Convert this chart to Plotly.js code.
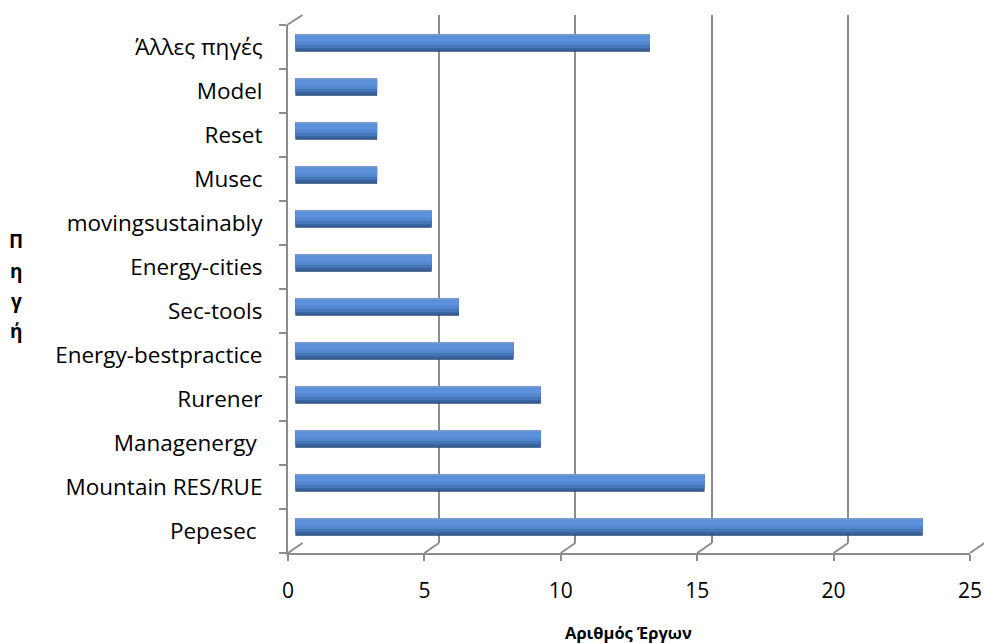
<!DOCTYPE html>
<html>
<head>
<meta charset="utf-8">
<script src="https://cdn.plot.ly/plotly-3.0.1.min.js"></script>
<style>html,body{margin:0;padding:0;background:#fff;}#chart{width:984px;height:643px;}</style>
</head>
<body>
<div id="chart"></div>
<script>
// ---- data ----
const categories = ["Pepesec ", "Mountain RES/RUE", "Managenergy ", "Rurener", "Energy-bestpractice",
  "Sec-tools", "Energy-cities", "movingsustainably", "Musec", "Reset", "Model", "Άλλες πηγές"];
const projects = [23, 15, 9, 9, 8, 6, 5, 5, 3, 3, 3, 13];
const xTicks = [0, 5, 10, 15, 20, 25];
const xTitle = "Αριθμός Έργων";
const yTitle = "Πηγή";

// ---- geometry (pixels) ----
const W = 984, H = 643;
const front = {x0: 288, x1: 970, y0: 25, y1: 553};
const dx = 14.5, dy = 10;            // depth offset of back wall
const back = {x0: front.x0 + dx, x1: front.x1 + dx, y0: front.y0 - dy, y1: front.y1 - dy};
const mid = {x0: front.x0 + dx/2, x1: front.x1 + dx/2, y0: front.y0 - dy/2 + 1, y1: front.y1 - dy/2 + 1};
const XMAX = 25;
const px2fx = p => p / W, px2fy = p => 1 - p / H;

function xDomain(b) {
  const scale = (b.x1 - b.x0) / XMAX;
  let right = b.x1, rmax = XMAX;
  if (right > W) { right = W; rmax = (W - b.x0) / scale; }
  return {domain: [px2fx(b.x0), px2fx(right)], range: [0, rmax]};
}
const catRange = [-0.5, categories.length - 0.5];
const font = "'Open Sans', 'Noto Sans', sans-serif";
const grid = '#8c8c8c';

const xa = xDomain(back), xb = xDomain(front), xc = xDomain(mid);

// cylinder shading bands: [start, end] as fraction of bar thickness (0 = bottom), colour
const barW = 0.40;
const bands = [
  [0.00, 1.00, '#2b4a78'],
  [0.08, 1.00, '#3a64a0'],
  [0.22, 1.00, '#4776b8'],
  [0.38, 1.00, '#5184cb'],
  [0.52, 0.92, '#588dd5'],
  [0.62, 0.86, '#5d93dc'],
  [0.92, 1.00, '#86a6d2']
];
const traces = bands.map((b, i) => ({
  type: 'bar', orientation: 'h', x: projects, y: categories, xaxis: 'x3', yaxis: 'y3',
  width: barW * (b[1] - b[0]), offset: -barW / 2 + barW * b[0],
  marker: {color: b[2], line: {width: 0}}, hoverinfo: i === 0 ? 'x+y' : 'skip'
}));
// invisible traces so the other axes render
traces.push({type: 'scatter', x: [0], y: [categories[0]], xaxis: 'x', yaxis: 'y', mode: 'markers',
  marker: {opacity: 0}, hoverinfo: 'skip'});
traces.push({type: 'scatter', x: [0], y: [categories[0]], xaxis: 'x2', yaxis: 'y2', mode: 'markers',
  marker: {opacity: 0}, hoverinfo: 'skip'});

// decorative 3D edges
const shapes = [];
const line = {color: grid, width: 2};
const scaleF = (front.x1 - front.x0) / XMAX;
xTicks.forEach(t => {
  const fxp = front.x0 + t * scaleF;
  shapes.push({type: 'line', xref: 'paper', yref: 'paper',
    x0: px2fx(fxp), y0: px2fy(front.y1), x1: px2fx(fxp + dx), y1: px2fy(back.y1), line});
});
// top-left depth edge
shapes.push({type: 'line', xref: 'paper', yref: 'paper',
  x0: px2fx(front.x0 - 1), y0: px2fy(front.y0), x1: px2fx(back.x0), y1: px2fy(back.y0), line});

const annotations = [
  {text: '<b>' + xTitle + '</b>', xref: 'paper', yref: 'paper', x: px2fx(628), y: px2fy(632),
   showarrow: false, font: {family: font, size: 16.5, color: '#000'}, xanchor: 'center', yanchor: 'middle'}
];
Array.from(yTitle).forEach((ch, i) => {
  annotations.push({text: '<b>' + ch + '</b>', xref: 'paper', yref: 'paper', x: px2fx(16),
    y: px2fy(241 + i * 30), showarrow: false, font: {family: font, size: 19, color: '#000'},
    xanchor: 'center', yanchor: 'middle'});
});

const layout = {
  width: W, height: H, margin: {l: 0, r: 0, t: 0, b: 0},
  paper_bgcolor: '#fff', plot_bgcolor: 'rgba(0,0,0,0)',
  showlegend: false, barmode: 'overlay',
  font: {family: font, size: 19, color: '#000'},
  // back wall: gridlines
  xaxis: {domain: xa.domain, range: xa.range, showgrid: true, gridcolor: grid, gridwidth: 2,
    tickvals: xTicks, showticklabels: false, zeroline: false, showline: false, ticks: '',
    anchor: 'y', fixedrange: true},
  yaxis: {domain: [px2fy(back.y1), px2fy(back.y0)], range: catRange, type: 'category',
    categoryorder: 'array', categoryarray: categories,
    showgrid: false, showticklabels: false, zeroline: false, showline: false, ticks: '',
    anchor: 'x', fixedrange: true},
  // front axes: lines, ticks, labels
  xaxis2: {domain: xb.domain, range: xb.range, showgrid: false, tickvals: xTicks,
    ticks: 'outside', ticklen: 6, tickwidth: 2, tickcolor: grid,
    showline: true, linecolor: grid, linewidth: 2, zeroline: false,
    ticklabelstandoff: 12, tickfont: {family: font, size: 21, color: '#000'},
    anchor: 'y2', fixedrange: true},
  yaxis2: {domain: [px2fy(front.y1), px2fy(front.y0)], range: catRange, type: 'category',
    categoryorder: 'array', categoryarray: categories, tickson: 'boundaries',
    ticks: 'outside', ticklen: 7, tickwidth: 2, tickcolor: grid,
    showline: true, linecolor: grid, linewidth: 2, showgrid: false, zeroline: false,
    ticklabelstandoff: 19, tickfont: {family: font, size: 22.5, color: '#000'},
    anchor: 'x2', fixedrange: true},
  // bars in the middle plane
  xaxis3: {domain: xc.domain, range: xc.range, showgrid: false, showticklabels: false,
    zeroline: false, showline: false, ticks: '', anchor: 'y3', fixedrange: true},
  yaxis3: {domain: [px2fy(mid.y1), px2fy(mid.y0)], range: catRange, type: 'category',
    categoryorder: 'array', categoryarray: categories,
    showgrid: false, showticklabels: false, zeroline: false, showline: false, ticks: '',
    anchor: 'x3', fixedrange: true},
  shapes, annotations
};

Plotly.newPlot('chart', traces, layout, {displayModeBar: false, staticPlot: true});
</script>
</body>
</html>
